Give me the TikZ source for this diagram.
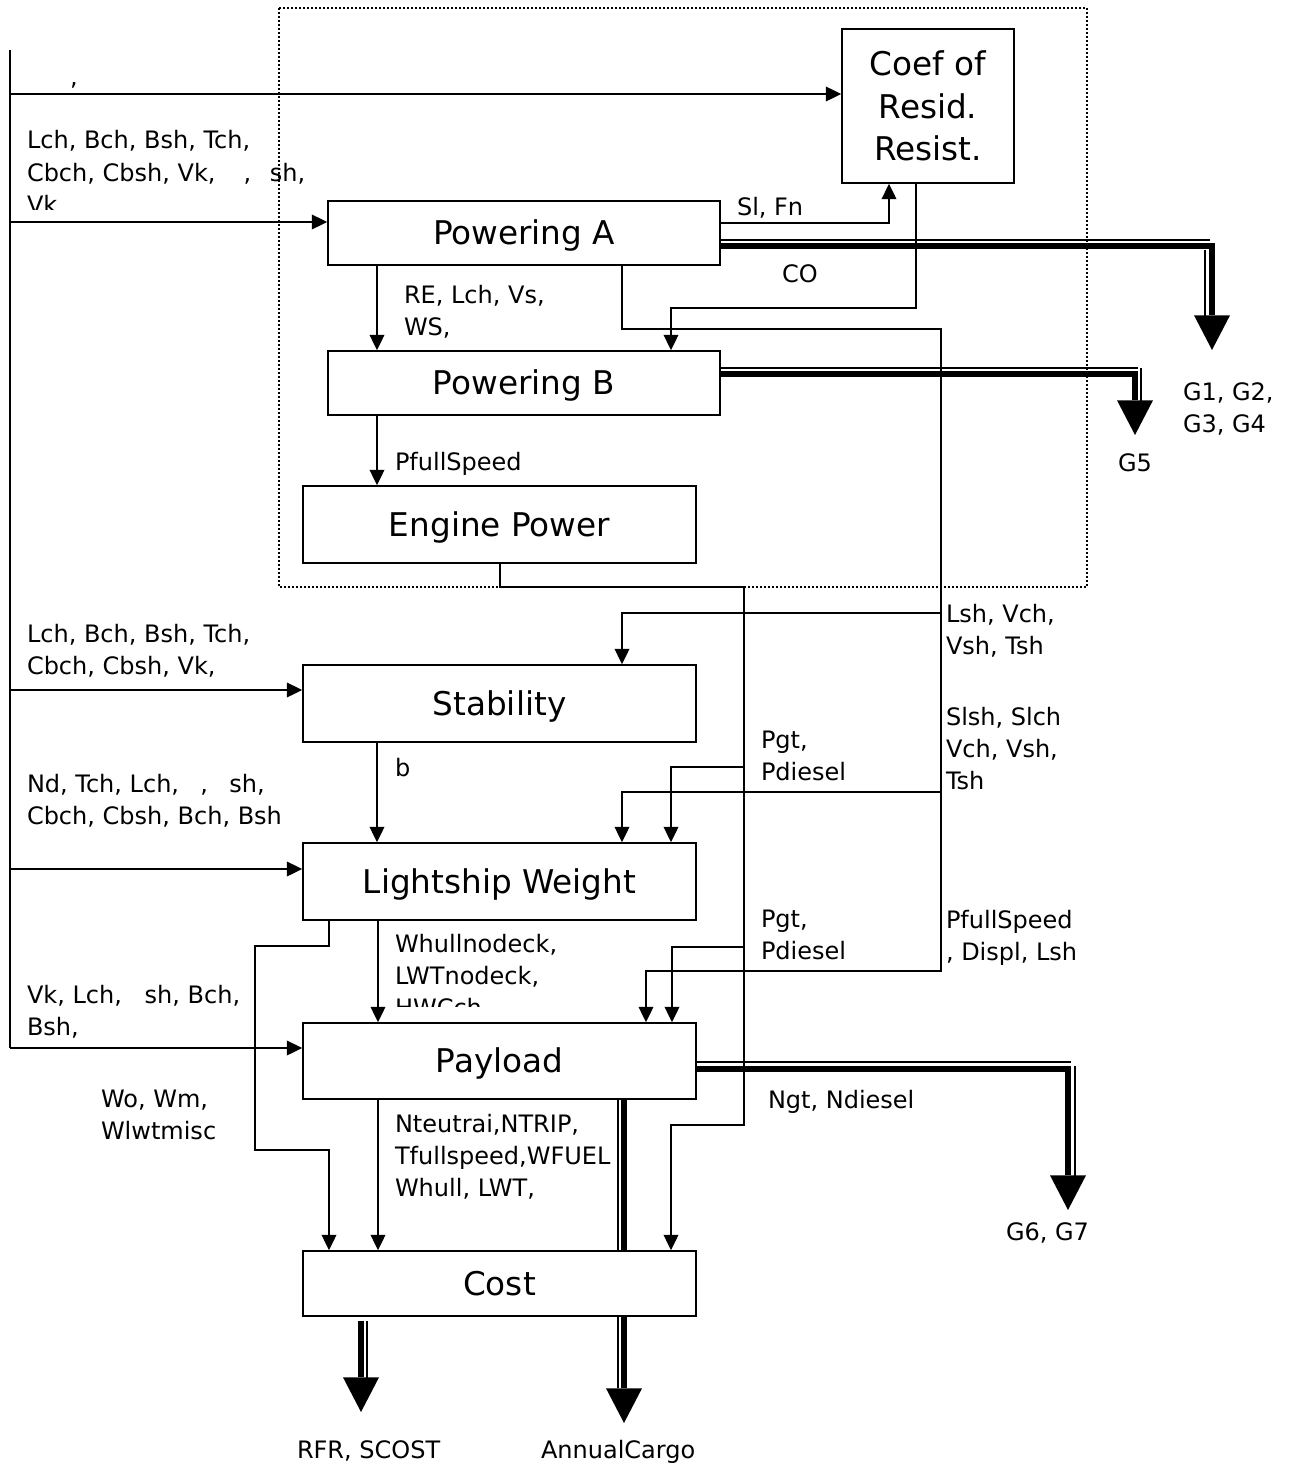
\documentclass[tikz,border=0pt]{standalone}
\usepackage{fontspec}
\setmainfont{DejaVu Sans}
\usetikzlibrary{arrows.meta}
\newcommand\labfont{\fontsize{18pt}{24pt}\selectfont}
\newcommand\boxfont{\fontsize{24.5pt}{32pt}\selectfont}
\begin{document}
\begin{tikzpicture}[x=0.75pt,y=-0.75pt,
  box/.style={draw, line width=1.2pt, inner sep=0pt, font=\boxfont, text height=17.9pt, text depth=0pt},
  cbox/.style={draw, line width=1.2pt, inner sep=0pt, font=\boxfont, align=center},
  conn/.style={line width=1.1pt},
  arr/.style={conn, -{Triangle[length=11.5pt,width=11pt]}},
  lab/.style={anchor=north west, inner sep=0pt, outer sep=0pt, align=left, font=\labfont},
  thk/.style={line width=4.6pt},
  thn/.style={line width=1.1pt},
  bigarr/.style={thk, -{Triangle[length=26pt,width=27pt,line width=0pt]}},
  dotbox/.style={line width=1.2pt, dash pattern=on 1.2pt off 1.8pt}
]
\useasboundingbox (0,0) rectangle (1291,1466);

% dotted frame
\draw[dotbox] (279,8) rectangle (1087,587);

% boxes
\node[cbox, minimum width=129pt, minimum height=115.5pt] (coef) at (928,106) {\rule{0pt}{28pt}Coef of\\\rule{0pt}{23pt}Resid.\\\strut Resist.};
\node[box, minimum width=294pt, minimum height=48pt] (pa) at (524,233) {Powering A};
\node[box, minimum width=294pt, minimum height=48pt] (pb) at (524,383) {Powering B};
\node[box, minimum width=294.75pt, minimum height=57.75pt] (ep) at (499.5,524.5) {Engine Power};
\node[box, minimum width=294.75pt, minimum height=57.75pt] (st) at (499.5,703.5) {Stability};
\node[box, minimum width=294.75pt, minimum height=57.75pt] (lw) at (499.5,881.5) {Lightship Weight};
\node[box, minimum width=294.75pt, minimum height=57pt] (pl) at (499.5,1061) {Payload};
\node[box, minimum width=294.75pt, minimum height=48.75pt] (co) at (499.5,1283.5) {Cost};

% bus
\coordinate (busT) at (10,50);
\coordinate (busB) at (10,1048);
\draw[line width=1.3pt] (busT) -- (busB);
\draw[arr] (busT |- 0,94) -- (coef.west |- 0,94);
\draw[arr] (busT |- 0,222) -- (pa.west |- 0,222);
\draw[arr] (busT |- 0,690) -- (st.west |- 0,690);
\draw[arr] (busT |- 0,869) -- (lw.west |- 0,869);
\draw[arr] (busB) -- (pl.west |- busB);

% Sl, Fn
\draw[arr] (pa.east |- 0,223) -| (coef.south -| 889,0);
% CO
\draw[arr] (coef.south -| 916,0) |- (671,308) -- (pb.north -| 671,0);
% main chain
\draw[arr] (pa.south -| 377,0) -- (pb.north -| 377,0);
\draw[arr] (pb.south -| 377,0) -- (ep.north -| 377,0);
\draw[arr] (st.south -| 377,0) -- (lw.north -| 377,0);
\draw[arr] (lw.south -| 378,0) -- (pl.north -| 378,0);
\draw[arr] (pl.south -| 378,0) -- (co.north -| 378,0);

% engine power line (Pgt, Pdiesel)
\coordinate (e1) at (744,587);
\draw[arr] (ep.south -| 500,0) |- (e1) |- (671,1125) -- (co.north -| 671,0);
\draw[arr] (744,767) -| (lw.north -| 671,0);
\draw[arr] (744,947) -| (pl.north -| 672,0);

% powering A line (Lsh, Vch ...)
\coordinate (a1) at (941,329);
\draw[arr] (pa.south -| 622,0) |- (a1) |- (646,971) -- (pl.north -| 646,0);
\draw[arr] (941,613) -| (st.north -| 622,0);
\draw[arr] (941,792) -| (lw.north -| 622,0);

% lightship left line (Wo, Wm)
\draw[arr] (lw.south -| 329,0) |- (255,946) |- (329,1150) -- (co.north -| 329,0);

% thick outputs
\coordinate (g1) at (1212,350);
\coordinate (g5) at (1135,435);
\coordinate (g6) at (1068,1210);
\coordinate (rfr) at (361,1412);
\coordinate (ac) at (624,1423);
\draw[thn] (pa.east |- 0,240) -- (1210,240);
\draw[bigarr] (pa.east |- 0,246) -- (1212,246) -- (g1);
\draw[thn] (1205,250) -- (1205,318);

\draw[thn] (pb.east |- 0,368) -- (1138,368);
\draw[bigarr] (pb.east |- 0,374) -- (1135,374) -- (g5);
\draw[thn] (1141,368) -- (1141,402);

\draw[thn] (pl.east |- 0,1062) -- (1071,1062);
\draw[bigarr] (pl.east |- 0,1069) -- (1068,1069) -- (g6);
\draw[thn] (1075,1066) -- (1075,1176);

\draw[thn] (pl.south -| 618,0) -- (co.north -| 618,0);
\draw[thk] (pl.south -| 624,0) -- (co.north -| 624,0);

\draw[thn] (co.south -| 618,0) -- (618,1388);
\draw[bigarr] (co.south -| 624,0) -- (ac);

\draw[bigarr] (361,1321) -- (rfr);
\draw[thn] (367,1321) -- (367,1378);

% labels
\node[lab] (l0) at (70,63.6) {\strut ,};
\begin{scope}
\clip (0,100) rectangle (325,209);
\node[lab] (l1) at (27,126.6) {\strut Lch, Bch, Bsh, Tch,\\\strut Cbch, Cbsh, Vk,\hspace{21pt},\hspace{14pt}sh,\\\strut Vk};
\end{scope}
\node[lab] (l2) at (404,280.6) {\strut RE, Lch, Vs,\\\strut WS,};
\node[lab] (l3) at (395,447.6) {\strut PfullSpeed};
\node[lab] (l4) at (27,619.6) {\strut Lch, Bch, Bsh, Tch,\\\strut Cbch, Cbsh, Vk,};
\node[lab] (l5) at (395,753.6) {\strut b};
\node[lab] (l6) at (27,769.6) {\strut Nd, Tch, Lch,\hspace{16pt},\hspace{16pt}sh,\\\strut Cbch, Cbsh, Bch, Bsh};
\begin{scope}
\clip (380,925) rectangle (640,1006);
\node[lab] (l7) at (395,929.6) {\strut Whullnodeck,\\\strut LWTnodeck,\\\strut HWCch};
\end{scope}
\node[lab] (l8) at (27,980.6) {\strut Vk, Lch,\hspace{17pt}sh, Bch,\\\strut Bsh,};
\node[lab] (l9) at (101,1084.6) {\strut Wo, Wm,\\\strut Wlwtmisc};
\node[lab] (l10) at (395,1109.6) {\strut Nteutrai,NTRIP,\\\strut Tfullspeed,WFUEL\\\strut Whull, LWT,};

\node[lab] (r1) at (737,192.6) {\strut Sl, Fn};
\node[lab] (r2) at (782,259.6) {\strut CO};
\node[lab] (r3) at (1183,377.6) {\strut G1, G2,\\\strut G3, G4};
\node[lab] (r4) at (1118,448.6) {\strut G5};
\node[lab] (r5) at (946,599.6) {\strut Lsh, Vch,\\\strut Vsh, Tsh};
\node[lab] (r6) at (946,702.6) {\strut Slsh, Slch\\\strut Vch, Vsh,\\\strut Tsh};
\node[lab] (r7) at (761,725.6) {\strut Pgt,\\\strut Pdiesel};
\node[lab] (r8) at (761,904.6) {\strut Pgt,\\\strut Pdiesel};
\node[lab] (r9) at (946,905.6) {\strut PfullSpeed\\\strut , Displ, Lsh};
\node[lab] (r10) at (768,1085.6) {\strut Ngt, Ndiesel};
\node[lab] (r11) at (1006,1217.6) {\strut G6, G7};
\node[lab] (r12) at (297,1435.6) {\strut RFR, SCOST};
\node[lab] (r13) at (541,1435.6) {\strut AnnualCargo};
\end{tikzpicture}
\end{document}
